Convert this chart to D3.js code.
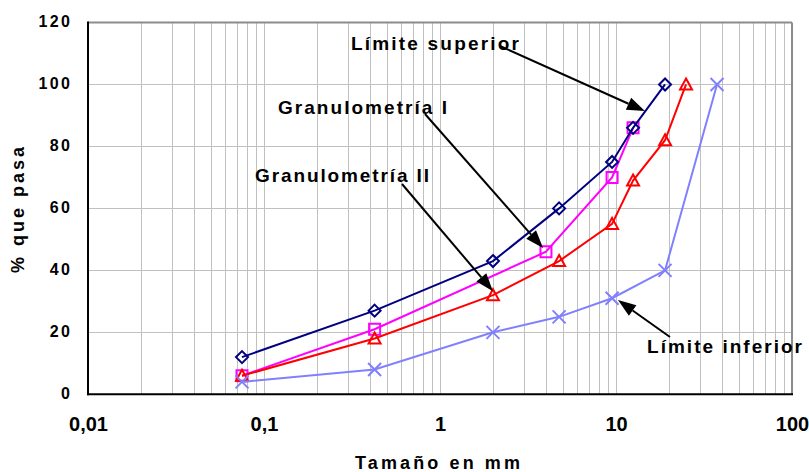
<!DOCTYPE html>
<html>
<head>
<meta charset="utf-8">
<script src="https://cdn.jsdelivr.net/npm/d3@7"></script>
<style>
  html, body { margin: 0; padding: 0; background: #fff; }
  svg { display: block; font-family: "Liberation Sans", Arial, sans-serif; font-weight: bold; }
</style>
</head>
<body>
<svg id="chart" width="809" height="472"></svg>
<script>
// Sieve openings (mm) and percent passing for each curve
const limSupSize = [0.075, 0.425, 2, 4.75, 9.5, 12.5, 19];
const limSupPass = [12, 27, 43, 60, 75, 86, 100];

const gran1Size = [0.075, 0.425, 4, 9.5, 12.5];
const gran1Pass = [6, 21, 46, 70, 86];

const gran2Size = [0.075, 0.425, 2, 4.75, 9.5, 12.5, 19, 25];
const gran2Pass = [6, 18, 32, 43, 55, 69, 82, 100];

const limInfSize = [0.075, 0.425, 2, 4.75, 9.5, 19, 37.5];
const limInfPass = [4, 8, 20, 25, 31, 40, 100];

const xTickValues = [0.01, 0.1, 1, 10, 100];
const yTickValues = [0, 20, 40, 60, 80, 100, 120];

const svg = d3.select("#chart");
const W = 809, H = 472;
const plot = { left: 88, right: 792, top: 22.5, bottom: 394.3 };

const x = d3.scaleLog().domain([0.01, 100]).range([plot.left, plot.right]);
const y = d3.scaleLinear().domain([0, 120]).range([plot.bottom, plot.top]);

svg.append("rect").attr("width", W).attr("height", H).attr("fill", "#fff");

// grid
const grid = svg.append("g").attr("stroke", "#c0c0c0").attr("stroke-width", 1);
x.ticks().filter(v => v > 0.01 && v < 100).forEach(v => {
  grid.append("line")
    .attr("x1", Math.round(x(v)) + 0.5).attr("x2", Math.round(x(v)) + 0.5)
    .attr("y1", plot.top).attr("y2", plot.bottom);
});
yTickValues.filter(v => v > 0 && v < 120).forEach(v => {
  grid.append("line")
    .attr("x1", plot.left).attr("x2", plot.right)
    .attr("y1", Math.round(y(v)) + 0.5).attr("y2", Math.round(y(v)) + 0.5);
});

// frame: grey top/right, black axes left/bottom
svg.append("line").attr("x1", plot.left).attr("x2", plot.right).attr("y1", plot.top).attr("y2", plot.top)
  .attr("stroke", "#8c8c8c").attr("stroke-width", 2);
svg.append("line").attr("x1", plot.right).attr("x2", plot.right).attr("y1", plot.top).attr("y2", plot.bottom)
  .attr("stroke", "#8c8c8c").attr("stroke-width", 2);
svg.append("line").attr("x1", plot.left).attr("x2", plot.left).attr("y1", plot.top - 1).attr("y2", plot.bottom + 1)
  .attr("stroke", "#000").attr("stroke-width", 2);
svg.append("line").attr("x1", plot.left - 1).attr("x2", plot.right + 1).attr("y1", plot.bottom).attr("y2", plot.bottom)
  .attr("stroke", "#000").attr("stroke-width", 2);

// axes (labels only)
const locale = d3.formatLocale({ decimal: ",", thousands: ".", grouping: [3], currency: ["", ""] });
const xAxis = d3.axisBottom(x).tickValues(xTickValues).tickSize(0).tickFormat(locale.format("~g"));
const gx = svg.append("g").attr("transform", `translate(0,${plot.bottom})`).call(xAxis);
gx.select(".domain").remove();
gx.selectAll("text")
  .attr("y", 36.7).attr("dy", null)
  .attr("font-family", "Liberation Sans, Arial, sans-serif")
  .attr("font-weight", "bold").attr("font-size", 20).attr("fill", "#000");

const yAxis = d3.axisLeft(y).tickValues(yTickValues).tickSize(0);
const gy = svg.append("g").attr("transform", `translate(${plot.left},0)`).call(yAxis);
gy.select(".domain").remove();
gy.selectAll("text")
  .attr("x", -15.6).attr("y", 4).attr("dy", null)
  .attr("font-family", "Liberation Sans, Arial, sans-serif")
  .attr("font-weight", "bold").attr("font-size", 16)
  .attr("letter-spacing", 2.4).attr("fill", "#000");

// series
const series = [
  { name: "Granulometría I", size: gran1Size, pass: gran1Pass, color: "#ff00ff", marker: "square" },
  { name: "Granulometría II", size: gran2Size, pass: gran2Pass, color: "#ff0000", marker: "triangle" },
  { name: "Límite inferior", size: limInfSize, pass: limInfPass, color: "#8080ff", marker: "times" },
  { name: "Límite superior", size: limSupSize, pass: limSupPass, color: "#000080", marker: "diamond" }
];

const markerPath = {
  diamond: "M0,-6L6,0L0,6L-6,0Z",
  square: "M-5.5,-5.5H5.5V5.5H-5.5Z",
  triangle: "M0,-6L6,5L-6,5Z",
  times: "M-6.5,-6.5L6.5,6.5M6.5,-6.5L-6.5,6.5"
};

const line = d3.line().x(d => x(d[0])).y(d => y(d[1]));

series.forEach(s => {
  const pts = s.size.map((v, i) => [v, s.pass[i]]);
  const g = svg.append("g");
  g.append("path").datum(pts).attr("d", line)
    .attr("fill", "none").attr("stroke", s.color).attr("stroke-width", 2);
  g.selectAll("path.mk").data(pts).join("path").attr("class", "mk")
    .attr("transform", d => `translate(${x(d[0])},${y(d[1])})`)
    .attr("d", markerPath[s.marker])
    .attr("fill", "none")
    .attr("stroke", s.color).attr("stroke-width", 2);
});

// callouts: label position in pixels, arrow tip at a point in data units
const callouts = [
  { text: "Límite superior", tx: 351, ty: 50, len: 168, from: [500, 46], tip: [14.6, 91.4] },
  { text: "Granulometría I", tx: 278, ty: 114, len: 169, from: [425, 114], tip: [3.85, 47.2] },
  { text: "Granulometría II", tx: 255, ty: 182, len: 174, from: [402, 184], tip: [2.0, 33.3] },
  { text: "Límite inferior", tx: 647, ty: 353, len: 155, from: [670, 337], tip: [10.26, 30.4] }
];

const headLen = 18, headHalf = 6.5;
callouts.forEach(c => {
  svg.append("text").attr("x", c.tx).attr("y", c.ty)
    .attr("font-size", 19).attr("textLength", c.len).attr("lengthAdjust", "spacing")
    .attr("fill", "#000").text(c.text);
  const tx = x(c.tip[0]), ty = y(c.tip[1]);
  const dx = tx - c.from[0], dy = ty - c.from[1];
  const L = Math.hypot(dx, dy), ux = dx / L, uy = dy / L;
  const bx = tx - ux * headLen, by = ty - uy * headLen;
  svg.append("line").attr("x1", c.from[0]).attr("y1", c.from[1]).attr("x2", bx).attr("y2", by)
    .attr("stroke", "#000").attr("stroke-width", 2);
  svg.append("path")
    .attr("d", `M${tx},${ty}L${bx - uy * headHalf},${by + ux * headHalf}L${bx + uy * headHalf},${by - ux * headHalf}Z`)
    .attr("fill", "#000");
});

// axis titles
svg.append("text").attr("x", 355).attr("y", 469)
  .attr("font-size", 18).attr("textLength", 165).attr("lengthAdjust", "spacing")
  .attr("fill", "#000").text("Tamaño en mm");

svg.append("text")
  .attr("transform", "translate(24,210) rotate(-90)")
  .attr("text-anchor", "middle")
  .attr("font-size", 18).attr("textLength", 126).attr("lengthAdjust", "spacing")
  .attr("fill", "#000").text("% que pasa");
</script>
</body>
</html>
